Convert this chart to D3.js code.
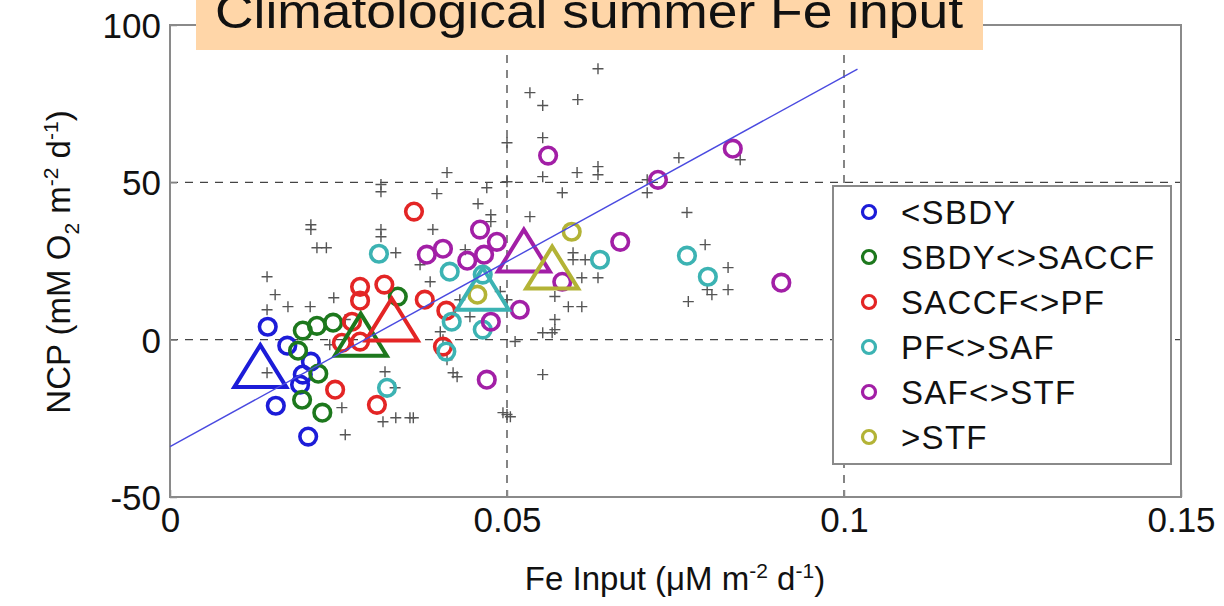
<!DOCTYPE html>
<html>
<head>
<meta charset="utf-8">
<script src="https://cdn.jsdelivr.net/npm/d3@7"></script>
<style>
  body { margin: 0; background: #fff; }
  text { font-family: "Liberation Sans", Arial, sans-serif; fill: #111; }
</style>
</head>
<body>
<div id="chart"></div>
<script>
// ---- data: [Fe input, NCP] pairs ----
const regionNames = ["<SBDY", "SBDY<>SACCF", "SACCF<>PF", "PF<>SAF", "SAF<>STF", ">STF"];

const sbdyPts = [[0.0145, 4.1], [0.0174, -1.9], [0.0209, -7.0], [0.0197, -11.1], [0.0193, -14.3],
  [0.0157, -21.0], [0.0205, -30.8]];
const sbdySaccfPts = [[0.0197, 2.9], [0.0218, 4.4], [0.0242, 5.4], [0.0190, -3.5], [0.0220, -10.8],
  [0.0196, -19.1], [0.0226, -23.2], [0.0338, 13.7]];
const saccfPfPts = [[0.0362, 40.7], [0.0282, 16.8], [0.0282, 12.4], [0.0318, 17.5], [0.0378, 12.7],
  [0.0410, 9.2], [0.0270, 5.7], [0.0255, -1.0], [0.0282, -0.6], [0.0405, -2.2], [0.0245, -15.9],
  [0.0307, -20.7]];
const pfSafPts = [[0.0310, 27.3], [0.0415, 21.6], [0.0418, 5.7], [0.0464, 20.7], [0.0464, 3.2],
  [0.0322, -15.3], [0.0638, 25.4], [0.0767, 26.7], [0.0798, 20.0], [0.0410, -3.8]];
const safStfPts = [[0.0381, 27.0], [0.0405, 28.9], [0.0460, 35.0], [0.0485, 31.1], [0.0441, 25.1],
  [0.0466, 27.0], [0.0476, 5.7], [0.0470, -12.7], [0.0519, 9.5], [0.0561, 58.5], [0.0835, 60.7],
  [0.0724, 50.8], [0.0668, 31.1], [0.0907, 18.1], [0.0582, 18.4]];
const stfPts = [[0.0596, 34.3], [0.0456, 14.3]];

// regional means (triangles)
const meanFe = [0.0134, 0.0283, 0.0329, 0.0464, 0.0525, 0.0567];
const meanNcp = [-8.4, 1.6, 6.4, 16.2, 28.3, 22.9];

// all individual observations (grey crosses)
const obsPts = [[0.0209, 36.5], [0.0209, 35.0], [0.0218, 29.2], [0.0232, 29.2], [0.0144, 20.0],
  [0.0156, 14.3], [0.0175, 10.5], [0.0144, 9.5], [0.0208, 10.5], [0.0243, 13.3], [0.0144, -10.5],
  [0.0255, -21.6], [0.0260, -30.2], [0.0411, 53.1], [0.0313, 49.3], [0.0313, 47.0], [0.0396, 46.4],
  [0.0470, 48.3], [0.0457, 43.2], [0.0476, 39.7], [0.0476, 37.5], [0.0313, 35.0], [0.0313, 32.7],
  [0.0335, 27.6], [0.0390, 35.0], [0.0500, 50.2], [0.0512, -0.6], [0.0319, -10.2], [0.0334, -15.3],
  [0.0316, -26.1], [0.0335, -24.8], [0.0356, -24.8], [0.0494, -23.2], [0.0505, -24.5], [0.0411, -6.4],
  [0.0420, -10.5], [0.0426, -11.8], [0.0401, 2.5], [0.0405, 0.0], [0.0445, 7.3], [0.0635, 86.1],
  [0.0534, 78.5], [0.0553, 74.4], [0.0605, 76.3], [0.0553, 64.2], [0.0500, 62.6], [0.0604, 53.1],
  [0.0635, 55.0], [0.0635, 52.4], [0.0553, 51.8], [0.0582, 46.7], [0.0534, 39.1], [0.0767, 40.4],
  [0.0755, 57.8], [0.0708, 50.8], [0.0708, 46.7], [0.0846, 57.2], [0.0598, 27.6], [0.0598, 25.4],
  [0.0616, 25.4], [0.0611, 19.7], [0.0635, 19.7], [0.0571, 13.7], [0.0591, 10.5], [0.0611, 10.5],
  [0.0571, 6.4], [0.0571, 3.2], [0.0553, 2.2], [0.0567, 2.2], [0.0553, -11.1], [0.0500, -23.8],
  [0.0361, -24.8], [0.0794, 30.2], [0.0828, 22.9], [0.0828, 15.9], [0.0797, 15.9], [0.0804, 14.3],
  [0.0769, 12.1], [0.0430, 12.7], [0.0490, 15.3], [0.0386, 18.4], [0.0438, 28.6], [0.0371, 23.8],
  [0.0260, 6.4], [0.0237, -1.6], [0.0500, 12.7]];

// regression line end points
const fitFe = [0, 0.102];
const fitNcp = [-34, 86];

const xTicks = [0, 0.05, 0.1, 0.15];
const yTicks = [-50, 0, 50, 100];
const xGrid = [0.05, 0.1];
const yGrid = [0, 50];

const regionColors = ["#1c1cd8", "#1d781d", "#e32525", "#3cb3b3", "#a21fa6", "#b3b336"];
const regionPts = [sbdyPts, sbdySaccfPts, saccfPfPts, pfSafPts, safStfPts, stfPts];

// ---- layout ----
const W = 1224, H = 606;
const plot = { left: 170, right: 1181, top: 25, bottom: 497 };

const svg = d3.select("#chart").append("svg")
  .attr("width", W).attr("height", H);

const x = d3.scaleLinear().domain([0, 0.15]).range([plot.left, plot.right]);
const y = d3.scaleLinear().domain([-50, 100]).range([plot.bottom, plot.top]);

// dashed grid lines
svg.append("g").selectAll("line").data(xGrid).join("line")
  .attr("x1", d => x(d)).attr("x2", d => x(d))
  .attr("y1", plot.top).attr("y2", plot.bottom)
  .attr("stroke", "#444").attr("stroke-width", 1.3).attr("stroke-dasharray", "8,7");
svg.append("g").selectAll("line").data(yGrid).join("line")
  .attr("x1", plot.left).attr("x2", plot.right)
  .attr("y1", d => y(d)).attr("y2", d => y(d))
  .attr("stroke", "#444").attr("stroke-width", 1.3).attr("stroke-dasharray", "8,7");

// axes frame
svg.append("rect")
  .attr("x", plot.left).attr("y", plot.top)
  .attr("width", plot.right - plot.left).attr("height", plot.bottom - plot.top)
  .attr("fill", "none").attr("stroke", "#8a8a8a").attr("stroke-width", 2);

// x axis
const xAxis = svg.append("g")
  .attr("transform", `translate(0,${plot.bottom})`)
  .call(d3.axisBottom(x).tickValues(xTicks).tickFormat(d => String(d)).tickSizeInner(-7).tickSizeOuter(0));
xAxis.select(".domain").remove();
xAxis.selectAll(".tick line").attr("stroke", "#8a8a8a").attr("stroke-width", 1.5);
xAxis.selectAll(".tick text")
  .attr("y", 10).attr("dy", "0.71em")
  .style("font-size", "35px").style("font-family", "Liberation Sans, Arial, sans-serif").attr("fill", "#111");

// y axis (plain hyphen for negative numbers, like the original)
const yAxis = svg.append("g")
  .attr("transform", `translate(${plot.left},0)`)
  .call(d3.axisLeft(y).tickValues(yTicks).tickFormat(d => String(d)).tickSizeInner(-7).tickSizeOuter(0));
yAxis.select(".domain").remove();
yAxis.selectAll(".tick line").attr("stroke", "#8a8a8a").attr("stroke-width", 1.5);
yAxis.selectAll(".tick text")
  .attr("x", -9).attr("dy", "0.36em")
  .style("font-size", "35px").style("font-family", "Liberation Sans, Arial, sans-serif").attr("fill", "#111");

// grey crosses: every observation
svg.append("g").selectAll("path").data(obsPts).join("path")
  .attr("d", d => `M${x(d[0]) - 5.5},${y(d[1])}H${x(d[0]) + 5.5}M${x(d[0])},${y(d[1]) - 5.5}V${y(d[1]) + 5.5}`)
  .attr("stroke", "#555").attr("stroke-width", 1.4).attr("fill", "none");

// circles by frontal region
regionPts.forEach((pts, i) => {
  svg.append("g").selectAll("circle").data(pts).join("circle")
    .attr("cx", d => x(d[0])).attr("cy", d => y(d[1]))
    .attr("r", 8.3)
    .attr("fill", "none")
    .attr("stroke", regionColors[i])
    .attr("stroke-width", 3.6);
});

// regional means as big triangles
svg.append("g").selectAll("path").data(meanFe).join("path")
  .attr("d", (d, i) => {
    const cx = x(d), cy = y(meanNcp[i]);
    return `M${cx},${cy - 21}L${cx + 26},${cy + 21}L${cx - 26},${cy + 21}Z`;
  })
  .attr("fill", "none")
  .attr("stroke", (d, i) => regionColors[i])
  .attr("stroke-width", 4)
  .attr("stroke-linejoin", "miter");

// linear fit
svg.append("line")
  .attr("x1", x(fitFe[0])).attr("y1", y(fitNcp[0]))
  .attr("x2", x(fitFe[1])).attr("y2", y(fitNcp[1]))
  .attr("stroke", "#4a4ae0").attr("stroke-width", 1.4);

// legend
const legend = svg.append("g");
legend.append("rect")
  .attr("x", 833).attr("y", 186).attr("width", 338).attr("height", 278)
  .attr("fill", "#fff").attr("stroke", "#8a8a8a").attr("stroke-width", 2);
const legendItems = legend.selectAll("g").data(regionNames).join("g")
  .attr("transform", (d, i) => `translate(869,${212 + i * 45})`);
legendItems.append("circle")
  .attr("r", 6.5).attr("fill", "none")
  .attr("stroke", (d, i) => regionColors[i]).attr("stroke-width", 3.2);
legendItems.append("text")
  .attr("x", 32).attr("dy", "0.36em")
  .style("font-size", "33px").style("letter-spacing", "1.3px")
  .text(d => d);

// axis labels
const xl = svg.append("text")
  .attr("x", 675).attr("y", 590).attr("text-anchor", "middle")
  .style("font-size", "33px");
xl.append("tspan").text("Fe Input (\u03bcM m");
xl.append("tspan").attr("dy", -12).style("font-size", "21px").text("-2");
xl.append("tspan").attr("dy", 12).text(" d");
xl.append("tspan").attr("dy", -12).style("font-size", "21px").text("-1");
xl.append("tspan").attr("dy", 12).text(")");

const yl = svg.append("text")
  .attr("transform", "translate(70,262) rotate(-90)")
  .attr("text-anchor", "middle")
  .style("font-size", "33px");
yl.append("tspan").text("NCP (mM O");
yl.append("tspan").attr("dy", 9).style("font-size", "21px").text("2");
yl.append("tspan").attr("dy", -9).text(" m");
yl.append("tspan").attr("dy", -12).style("font-size", "21px").text("-2");
yl.append("tspan").attr("dy", 12).text(" d");
yl.append("tspan").attr("dy", -12).style("font-size", "21px").text("-1");
yl.append("tspan").attr("dy", 12).text(")");

// title banner (the original is cut at the top edge)
svg.append("rect")
  .attr("x", 196).attr("y", 0).attr("width", 787).attr("height", 50)
  .attr("fill", "#ffd6a8");
svg.append("text")
  .attr("x", 215).attr("y", 28)
  .attr("textLength", 748).attr("lengthAdjust", "spacingAndGlyphs")
  .style("font-size", "48px")
  .text("Climatological summer Fe input");
</script>
</body>
</html>
